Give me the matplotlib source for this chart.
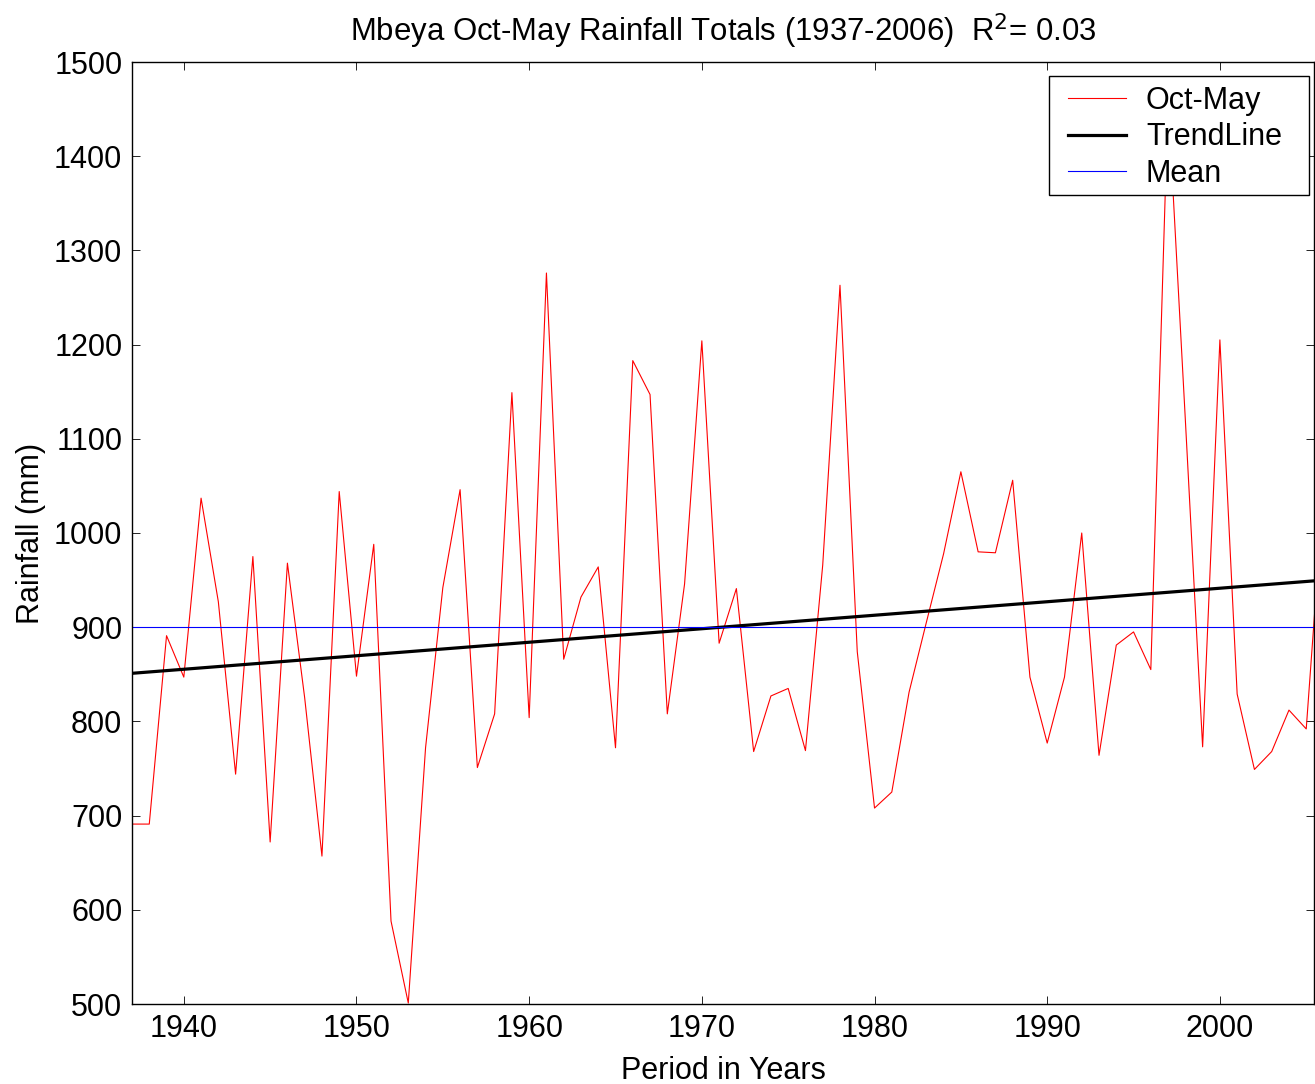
import numpy as np
import matplotlib
matplotlib.use("Agg")
import matplotlib.pyplot as plt
from matplotlib.patches import Rectangle

plt.rcParams['font.family'] = ['Liberation Sans', 'DejaVu Sans']

# Oct-May rainfall totals, Mbeya
years = np.arange(1937, 2007)
rain = [691, 691, 891, 847, 1037, 927, 744, 975, 672, 968,
        825, 657, 1044, 848, 988, 588, 501, 772, 942, 1046,
        751, 808, 1149, 804, 1276, 866, 932, 964, 772, 1183,
        1147, 808, 946, 1204, 883, 941, 768, 827, 835, 769,
        966, 1263, 874, 708, 725, 831, 905, 978, 1065, 980,
        979, 1056, 847, 777, 847, 1000, 764, 881, 895, 855,
        1460, 1120, 773, 1205, 829, 749, 768, 812, 792, 1045]
rain = np.array(rain, dtype=float)

yticks = np.arange(500, 1501, 100)
xticks = np.arange(1940, 2001, 10)

# linear trend and long term mean
coef = np.polyfit(years, rain, 1)
trend = np.polyval(coef, years)
mean = 900.0

fig = plt.figure(figsize=(13.15, 10.84), dpi=100)
W, H = 1315.0, 1084.0
ax = fig.add_axes([132 / W, 1 - 1004 / H, (1314 - 132) / W, (1004 - 62) / H])

ax.plot(years, rain, color='#ff0000', lw=0.8, label='Oct-May')
ax.plot(years, trend, color='black', lw=2.3, label='TrendLine')
ax.axhline(mean, color='#0000ff', lw=0.8, label='Mean')

ax.set_xlim(1937, 2005.45)
ax.set_ylim(500, 1500)
ax.set_xticks(xticks)
ax.set_yticks(yticks)
ax.tick_params(direction='in', length=6, width=0.6, top=True, right=True,
               labelsize=22, pad=7)
for s in ax.spines.values():
    s.set_linewidth(1.0)

ax.set_title('Mbeya Oct-May Rainfall Totals (1937-2006)  R$^{2}$= 0.03',
             fontsize=22.4, pad=15)
ax.set_xlabel('Period in Years', fontsize=22, labelpad=9)
ax.set_ylabel('Rainfall (mm)', fontsize=22, labelpad=6)

# legend box drawn by hand so that its padding matches the original
box = Rectangle((1049 / W, 1 - 195 / H), (1309 - 1049) / W, (195 - 76) / H,
                transform=fig.transFigure, facecolor='white',
                edgecolor='black', lw=1.0, zorder=4, clip_on=False)
ax.add_patch(box)
leg = ax.legend(loc='upper left', bbox_to_anchor=(1068 / W, 1 - 86 / H),
                bbox_transform=fig.transFigure, fontsize=22, frameon=False,
                handlelength=1.9, handletextpad=0.65, labelspacing=0.21,
                borderpad=0, borderaxespad=0)
leg.set_zorder(5)

fig.savefig('out.png', dpi=100)
